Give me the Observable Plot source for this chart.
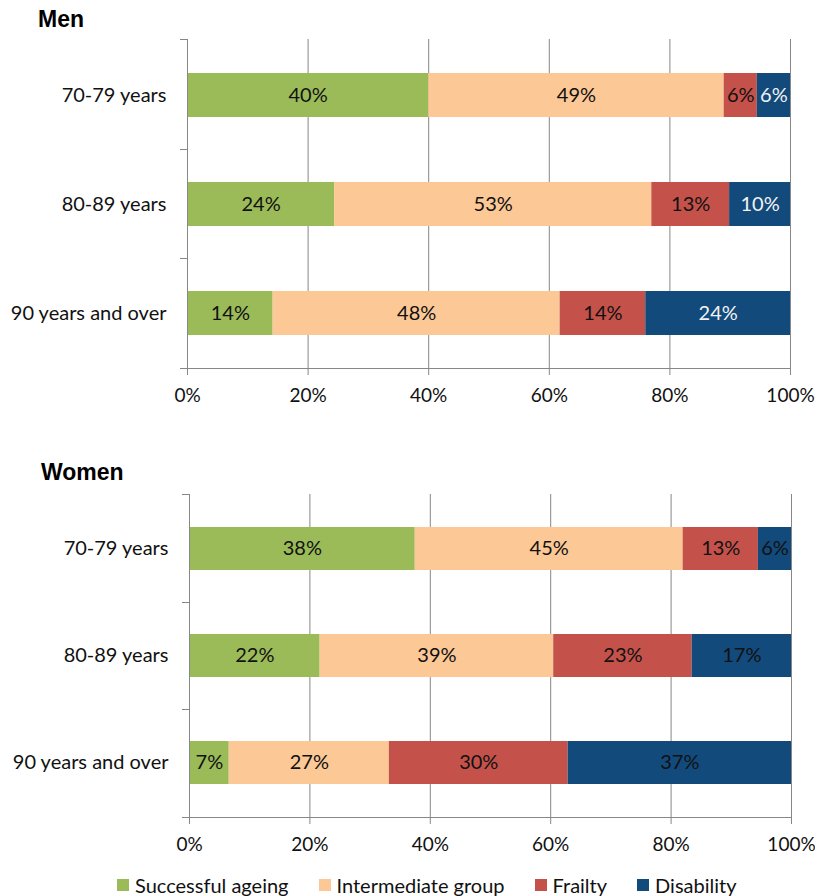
<!DOCTYPE html>
<html><head><meta charset="utf-8">
<script src="https://cdn.jsdelivr.net/npm/d3@7"></script>
<script src="https://cdn.jsdelivr.net/npm/@observablehq/plot@0.6"></script>
<style>
body{margin:0;background:#fff;}
#root{position:relative;width:815px;height:896px;background:#fff;font-family:Lato,"Open Sans",sans-serif;}
.title{position:absolute;z-index:2;font-family:"Liberation Sans",Arial,sans-serif;font-weight:bold;font-size:23px;line-height:23px;color:#000;}
.panel{position:absolute;left:0;z-index:1;}
.legend{position:absolute;z-index:2;display:flex;align-items:center;height:22px;font-size:20px;color:#111;white-space:nowrap;}
.legend .sw{width:12px;height:12px;margin-right:6px;}
.legend .item{display:flex;align-items:center;margin-right:30px;}
</style></head><body><div id="root"></div>
<script>
const categories = ["70-79 years", "80-89 years", "90 years and over"];
const groups = ["Successful ageing", "Intermediate group", "Frailty", "Disability"];
const colors = ["#9BBB59", "#FCC896", "#C4524A", "#124A7C"];
const xTicks = [0, 20, 40, 60, 80, 100];

// Men (per category: 70-79, 80-89, 90+)
const menSuccessful   = [40.0, 24.4, 14.2];
const menIntermediate = [49.0, 52.6, 47.6];
const menFrailty      = [5.5, 12.9, 14.2];
const menDisability   = [5.5, 10.1, 24.0];
// Women
const womenSuccessful   = [37.5, 21.7, 6.6];
const womenIntermediate = [44.5, 38.8, 26.6];
const womenFrailty      = [12.5, 23.0, 29.7];
const womenDisability   = [5.5, 16.5, 37.1];

const FONT = "Lato, 'Open Sans', sans-serif";
const GRAY = "#878787";

function rowsOf(series) {
  const rows = [];
  categories.forEach((c, i) => groups.forEach((g, j) => rows.push({category: c, group: g, value: series[j][i]})));
  return rows;
}

function panel(series, o) {
  const rows = rowsOf(series);
  return Plot.plot({
    width: 815, height: o.height,
    marginTop: 39, marginBottom: o.mb, marginLeft: o.ml, marginRight: o.mr,
    style: {fontFamily: FONT, fontSize: "20px", color: "#111", background: "#fff", overflow: "visible"},
    x: {domain: [0, 100], label: null},
    y: {domain: categories, paddingInner: 0.6, paddingOuter: 0.3, label: null},
    color: {domain: groups, range: colors},
    marks: [
      Plot.gridX(xTicks.slice(1), {stroke: GRAY, strokeOpacity: 1}),
      Plot.barX(rows, Plot.stackX({x: "value", y: "category", fill: "group"})),
      Plot.text(rows, Plot.stackX({
        x: "value", y: "category", z: "group",
        text: d => Math.round(d.value) + "%",
        fill: d => (o.lightDisability && d.group === "Disability") ? "#F2F2F2" : "#111",
        fontSize: 20
      })),
      Plot.ruleX([0], {stroke: GRAY}),
      Plot.axisX({ticks: xTicks, tickSize: 7, tickPadding: 13, tickFormat: d => d + "%", stroke: GRAY, fill: "#111", fontSize: 19, label: null}),
      Plot.axisY({tickSize: 0, tickPadding: 21, fill: "#111", label: null}),
      (index, scales, values, dims) => {
        const g = d3.create("svg:g").attr("stroke", GRAY).attr("fill", "none");
        const top = dims.marginTop, bottom = dims.height - dims.marginBottom;
        const left = dims.marginLeft, right = dims.width - dims.marginRight;
        const n = categories.length;
        for (let i = 0; i <= n; i++) {
          const y = Math.round(top + (bottom - top) * i / n) + 0.5;
          g.append("line").attr("x1", left - 7).attr("x2", left).attr("y1", y).attr("y2", y);
        }
        g.append("line").attr("x1", left).attr("x2", right + 0.5).attr("y1", bottom + 0.5).attr("y2", bottom + 0.5);
        return g.node();
      }
    ]
  });
}

const root = document.getElementById("root");
function addTitle(text, left, top) {
  const d = document.createElement("div");
  d.className = "title"; d.textContent = text;
  d.style.left = left + "px"; d.style.top = top + "px";
  root.appendChild(d);
}

const men = panel([menSuccessful, menIntermediate, menFrailty, menDisability],
  {height: 420, mb: 52, ml: 187, mr: 25, lightDisability: true});
men.classList.add("panel"); men.style.top = "0px";
root.appendChild(men);

const women = panel([womenSuccessful, womenIntermediate, womenFrailty, womenDisability],
  {height: 414, mb: 52, ml: 189, mr: 24, lightDisability: false});
women.classList.add("panel"); women.style.top = "455px";
root.appendChild(women);

addTitle("Men", 38, 7.5);
addTitle("Women", 41, 460.5);

// legend
const color = women.scale("color");
const leg = document.createElement("div");
leg.className = "legend"; leg.style.left = "117px"; leg.style.top = "874px";
color.domain.forEach((g, i) => {
  const it = document.createElement("div"); it.className = "item";
  const sw = document.createElement("div"); sw.className = "sw"; sw.style.background = color.range[i];
  const tx = document.createElement("span"); tx.textContent = g;
  it.appendChild(sw); it.appendChild(tx); leg.appendChild(it);
});
root.appendChild(leg);
</script>
</body></html>
